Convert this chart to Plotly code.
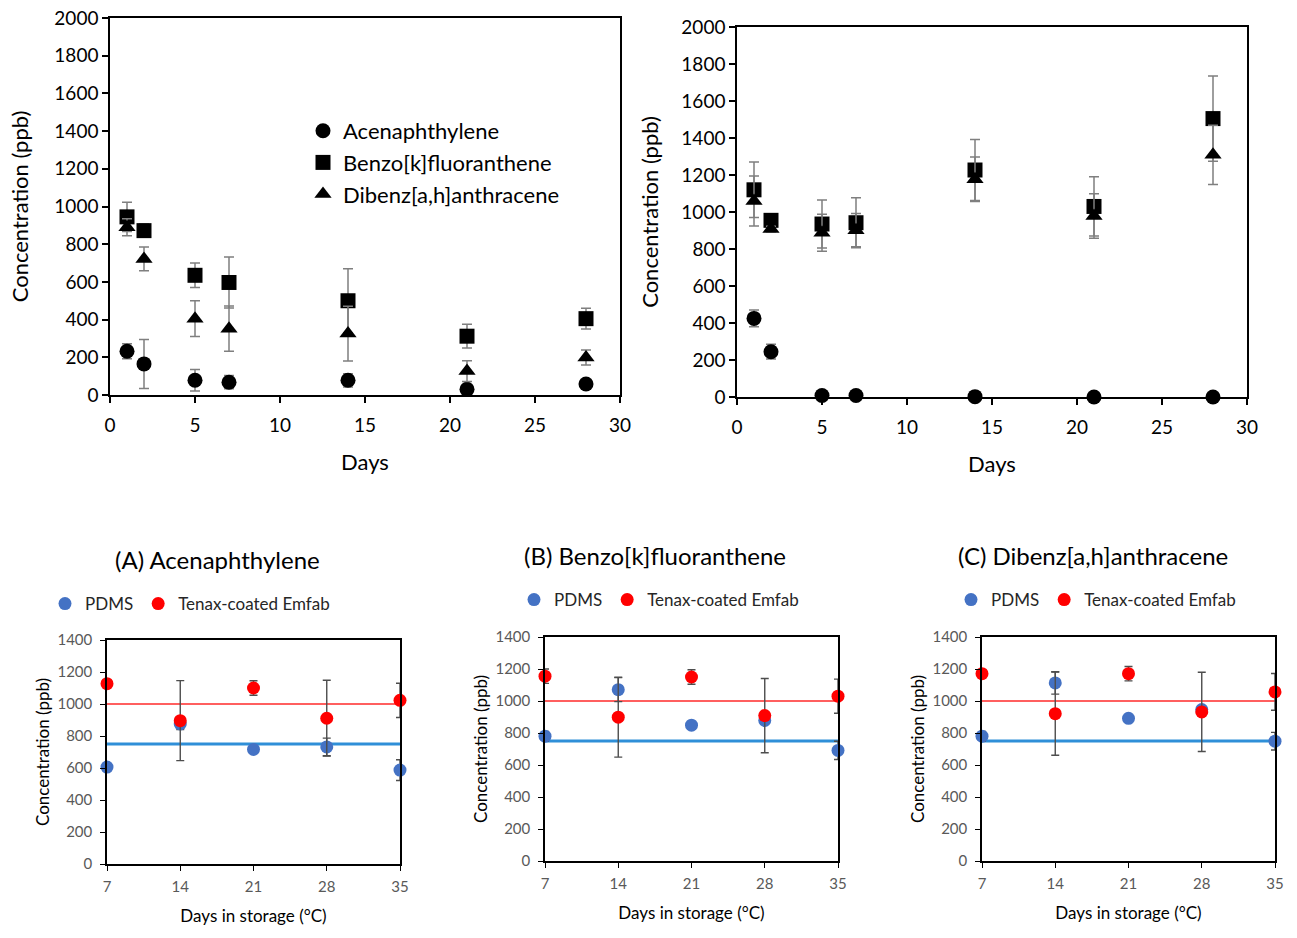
import plotly.graph_objects as go

# ---------------- data ----------------
days_top = [1, 2, 5, 7, 14, 21, 28]

# top-left panel
left_ace = [232, 165, 78, 68, 78, 30, 58]
left_ace_err = [40, 130, 57, 35, 35, 15, 12]
left_bkf = [945, 872, 635, 597, 500, 312, 405]
left_bkf_err = [78, 35, 65, 135, 170, 63, 55]
left_dba = [890, 722, 405, 352, 326, 127, 199]
left_dba_err = [45, 63, 95, 120, 145, 55, 40]

# top-right panel
right_ace = [425, 245, 8, 8, 2, 0, 0]
right_ace_err = [45, 40, 0, 0, 0, 0, 0]
right_bkf = [1120, 955, 935, 942, 1227, 1030, 1505]
right_bkf_err = [150, 25, 130, 135, 165, 160, 230]
right_dba = [1060, 908, 888, 902, 1177, 978, 1309]
right_dba_err = [135, 15, 100, 90, 120, 120, 160]

top_names = ["Acenaphthylene", "Benzo[k]fluoranthene", "Dibenz[a,h]anthracene"]

# bottom panels
days_storage = [7, 14, 21, 28, 35]
A_pdms = [606, 875, 716, 732, 587]
A_pdms_err = [0, 35, 10, 55, 65]
A_tenax = [1127, 896, 1100, 911, 1023]
A_tenax_err = [0, 250, 45, 237, 107]
B_pdms = [780, 1071, 849, 878, 691]
B_pdms_err = [30, 75, 10, 20, 57]
B_tenax = [1155, 899, 1150, 909, 1030]
B_tenax_err = [45, 250, 45, 232, 107]
C_pdms = [780, 1113, 892, 947, 749]
C_pdms_err = [30, 70, 10, 20, 55]
C_tenax = [1171, 921, 1171, 932, 1057]
C_tenax_err = [0, 260, 45, 248, 115]

ref_x = [7, 35]
tenax_ref = [1000, 1000]
pdms_ref = [750, 750]

bottom_titles = ["(A) Acenaphthylene", "(B) Benzo[k]fluoranthene", "(C) Dibenz[a,h]anthracene"]

# ---------------- figure ----------------
W, H = 1297, 938
FONT = "Lato"
fig = go.Figure()


def px_x(v):
    return v / W


def px_y(v):
    return 1 - v / H


ERR_TOP = dict(type="data", thickness=1.5, width=5, color="#7f7f7f")
symbols = ["circle", "square", "triangle-up"]
sizes = [15, 15, 15]

left_series = [(left_ace, left_ace_err), (left_bkf, left_bkf_err), (left_dba, left_dba_err)]
right_series = [(right_ace, right_ace_err), (right_bkf, right_bkf_err), (right_dba, right_dba_err)]

for i, (vals, errs) in enumerate(left_series):
    fig.add_trace(go.Scatter(
        x=days_top, y=vals, mode="markers", name=top_names[i],
        marker=dict(symbol=symbols[i], size=sizes[i], color="black"),
        error_y=dict(array=errs, **ERR_TOP),
        xaxis="x", yaxis="y", legend="legend", cliponaxis=False))

for i, (vals, errs) in enumerate(right_series):
    fig.add_trace(go.Scatter(
        x=days_top, y=vals, mode="markers", name=top_names[i], showlegend=False,
        marker=dict(symbol=symbols[i], size=sizes[i], color="black"),
        error_y=dict(array=errs, **ERR_TOP),
        xaxis="x2", yaxis="y2", cliponaxis=False))

ERR_BOT = dict(type="data", thickness=1.4, width=4, color="#4d4d4d")
bottom_series = [
    (A_pdms, A_pdms_err, A_tenax, A_tenax_err),
    (B_pdms, B_pdms_err, B_tenax, B_tenax_err),
    (C_pdms, C_pdms_err, C_tenax, C_tenax_err),
]
for k, (pd_v, pd_e, tx_v, tx_e) in enumerate(bottom_series):
    ax = str(k + 3)
    leg = "legend" + str(k + 2)
    fig.add_trace(go.Scatter(x=ref_x, y=tenax_ref, mode="lines", showlegend=False,
                             line=dict(color="#ff2a2a", width=1.5),
                             xaxis="x" + ax, yaxis="y" + ax))
    fig.add_trace(go.Scatter(x=ref_x, y=pdms_ref, mode="lines", showlegend=False,
                             line=dict(color="#2f8fd8", width=3),
                             xaxis="x" + ax, yaxis="y" + ax))
    fig.add_trace(go.Scatter(x=days_storage, y=pd_v, mode="markers", name="PDMS",
                             marker=dict(size=13, color="#4472c4"),
                             error_y=dict(array=pd_e, **ERR_BOT),
                             xaxis="x" + ax, yaxis="y" + ax, legend=leg, cliponaxis=False))
    fig.add_trace(go.Scatter(x=days_storage, y=tx_v, mode="markers", name="Tenax-coated Emfab",
                             marker=dict(size=13, color="#ff0000"),
                             error_y=dict(array=tx_e, **ERR_BOT),
                             xaxis="x" + ax, yaxis="y" + ax, legend=leg, cliponaxis=False))

# ---------------- axes ----------------
top_axis_common = dict(showline=True, linecolor="black", linewidth=1.5, mirror=True,
                       ticks="outside", ticklen=6, tickcolor="black", tickwidth=1.5,
                       showgrid=False, zeroline=False, automargin=False,
                       tickfont=dict(family=FONT, size=19, color="black"))
top_title_font = dict(family=FONT, size=22, color="black")

bot_axis_common = dict(showline=True, linecolor="black", linewidth=1.5, mirror=True,
                       ticks="outside", ticklen=5, tickcolor="black", tickwidth=1.2,
                       showgrid=False, zeroline=False, automargin=False,
                       tickfont=dict(family=FONT, size=15, color="#595959"))
bot_title_font = dict(family=FONT, size=17, color="black")

layout = dict(
    width=W, height=H, margin=dict(l=0, r=0, t=0, b=0, autoexpand=False),
    paper_bgcolor="white", plot_bgcolor="white",
    font=dict(family=FONT, color="black"),
    xaxis=dict(domain=[px_x(110), px_x(620)], range=[0, 30], dtick=5, anchor="y",
               ticklabelstandoff=6,
               title=dict(text="Days", font=top_title_font, standoff=20), **top_axis_common),
    yaxis=dict(domain=[px_y(395), px_y(18)], range=[0, 2000], dtick=200, anchor="x",
               title=dict(text="Concentration (ppb)", font=top_title_font, standoff=20), **top_axis_common),
    xaxis2=dict(domain=[px_x(737), px_x(1247)], range=[0, 30], dtick=5, anchor="y2",
                ticklabelstandoff=6,
                title=dict(text="Days", font=top_title_font, standoff=20), **top_axis_common),
    yaxis2=dict(domain=[px_y(397), px_y(27)], range=[0, 2000], dtick=200, anchor="x2",
                title=dict(text="Concentration (ppb)", font=top_title_font, standoff=17), **top_axis_common),
    legend=dict(x=px_x(303), y=px_y(110), xanchor="left", yanchor="top",
                font=dict(family=FONT, size=22, color="black"), bgcolor="rgba(0,0,0,0)",
                itemwidth=30, tracegroupgap=0),
)

bot_x = [(107, 400), (545, 838), (982, 1275)]
bot_y = [(640, 864), (637, 861), (637, 861)]
leg_pos = [(190, 604), (659, 600), (1096, 600)]
title_pos = [(217, 559), (655, 555), (1093, 555)]
for k in range(3):
    n = str(k + 3)
    layout["xaxis" + n] = dict(domain=[px_x(bot_x[k][0]), px_x(bot_x[k][1])], range=[7, 35],
                               tickvals=days_storage, anchor="y" + n, ticklabelstandoff=3,
                               title=dict(text="Days in storage (°C)", font=bot_title_font, standoff=16),
                               **bot_axis_common)
    layout["yaxis" + n] = dict(domain=[px_y(bot_y[k][1]), px_y(bot_y[k][0])], range=[0, 1400],
                               dtick=200, anchor="x" + n, ticklabelstandoff=5,
                               title=dict(text="Concentration (ppb)", font=bot_title_font, standoff=3),
                               **bot_axis_common)
    layout["legend" + str(k + 2)] = dict(
        x=px_x(leg_pos[k][0]), y=px_y(leg_pos[k][1]), xanchor="center", yanchor="middle",
        orientation="h", font=dict(family=FONT, size=17, color="#262626"),
        bgcolor="rgba(0,0,0,0)", itemwidth=30)

fig.update_layout(**layout)

for k in range(3):
    fig.add_annotation(text=bottom_titles[k], x=px_x(title_pos[k][0]), y=px_y(title_pos[k][1]),
                       xref="paper", yref="paper", xanchor="center", yanchor="middle",
                       showarrow=False, font=dict(family=FONT, size=24, color="black"))

fig.write_html("out.html", config={"displayModeBar": False},
               post_script="document.body.style.margin='0';document.body.style.overflow='hidden';")
